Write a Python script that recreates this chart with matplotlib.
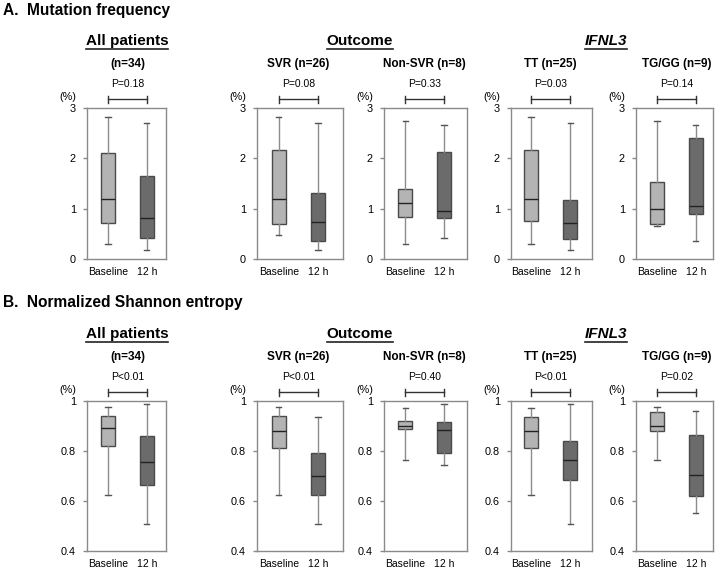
import matplotlib
matplotlib.use('Agg')
import matplotlib.pyplot as plt
import matplotlib.transforms as mtransforms
from matplotlib.lines import Line2D

plt.rcParams['font.family'] = ['Liberation Sans', 'DejaVu Sans']

# --- data ---
subtitles = ['(n=34)', 'SVR (n=26)', 'Non-SVR (n=8)', 'TT (n=25)', 'TG/GG (n=9)']
time_labels = ['Baseline', '12 h']

# whislo, q1, med, q3, whishi
mut_baseline = [
    [0.30, 0.72, 1.19, 2.11, 2.82],
    [0.47, 0.69, 1.19, 2.16, 2.82],
    [0.30, 0.83, 1.11, 1.40, 2.75],
    [0.30, 0.75, 1.20, 2.17, 2.82],
    [0.65, 0.70, 0.99, 1.52, 2.75],
]
mut_12h = [
    [0.17, 0.41, 0.81, 1.64, 2.70],
    [0.17, 0.36, 0.735, 1.32, 2.70],
    [0.41, 0.81, 0.95, 2.12, 2.66],
    [0.17, 0.40, 0.715, 1.17, 2.70],
    [0.36, 0.89, 1.05, 2.40, 2.66],
]
mut_p = ['P=0.18', 'P=0.08', 'P=0.33', 'P=0.03', 'P=0.14']
mut_ticks = [0, 1, 2, 3]
mut_ticklabels = ['0', '1', '2', '3']

ent_baseline = [
    [0.623, 0.820, 0.893, 0.939, 0.976],
    [0.623, 0.813, 0.879, 0.940, 0.976],
    [0.763, 0.887, 0.899, 0.921, 0.971],
    [0.623, 0.812, 0.881, 0.935, 0.971],
    [0.763, 0.879, 0.899, 0.955, 0.976],
]
ent_12h = [
    [0.508, 0.663, 0.757, 0.859, 0.990],
    [0.508, 0.625, 0.700, 0.793, 0.935],
    [0.743, 0.793, 0.883, 0.916, 0.990],
    [0.508, 0.683, 0.763, 0.840, 0.990],
    [0.551, 0.621, 0.705, 0.865, 0.960],
]
ent_p = ['P<0.01', 'P<0.01', 'P=0.40', 'P<0.01', 'P=0.02']
ent_ticks = [0.4, 0.6, 0.8, 1.0]
ent_ticklabels = ['0.4', '0.6', '0.8', '1']

# --- layout in pixels ---
W, H = 720, 570
panel_px = [(87, 166), (257, 343), (384, 467), (511, 592), (636, 713)]
panel_xlim = [(0.46, 2.49), (0.44, 2.64), (0.46, 2.59), (0.49, 2.56), (0.46, 2.44)]

light = '#b4b4b4'
dark = '#6b6b6b'
edge = '#4a4a4a'
spine = '#8a8a8a'

fig = plt.figure(figsize=(W / 100, H / 100), dpi=100)


def stats_of(vals):
    return dict(whislo=vals[0], q1=vals[1], med=vals[2], q3=vals[3], whishi=vals[4], fliers=[])


def draw_row(top, bottom, base, h12, pvals, ticks, ticklabels, title, row_off):
    fig.text(3 / W, 1 - (10 + row_off) / H, title, fontsize=11.2, fontweight='bold',
             va='center', ha='left')
    for i in range(5):
        l, r = panel_px[i]
        ax = fig.add_axes([l / W, 1 - bottom / H, (r - l) / W, (bottom - top) / H])
        hpx = bottom - top
        wpx = r - l
        ax.bxp([stats_of(base[i]), stats_of(h12[i])], positions=[1, 2], widths=0.36,
               capwidths=0.13, patch_artist=True, showfliers=False,
               boxprops=dict(edgecolor=edge, linewidth=1.0),
               whiskerprops=dict(color='#8c8c8c', linewidth=1.0),
               capprops=dict(color='#555555', linewidth=1.0),
               medianprops=dict(color='#222222', linewidth=1.0))
        for patch, c in zip(ax.patches, [light, dark]):
            patch.set_facecolor(c)
        ax.set_xlim(*panel_xlim[i])
        ax.set_ylim(ticks[0], ticks[-1])
        ax.set_yticks(ticks)
        ax.set_yticklabels(ticklabels)
        ax.set_xticks([1, 2])
        ax.set_xticklabels(time_labels)
        ax.tick_params(axis='x', length=0, pad=6, labelsize=7.5)
        ax.tick_params(axis='y', length=3, width=1, color=spine, pad=5, labelsize=7.8)
        for s in ax.spines.values():
            s.set_color(spine)
            s.set_linewidth(1.0)
        # bracket + p value
        tr = mtransforms.blended_transform_factory(ax.transData, ax.transAxes)
        yb = 1 + 9 / hpx
        d = 3.5 / hpx
        ax.plot([1, 2], [yb, yb], color='#333333', lw=1, transform=tr, clip_on=False)
        ax.plot([1, 1], [yb - d, yb + d], color='#333333', lw=1, transform=tr, clip_on=False)
        ax.plot([2, 2], [yb - d, yb + d], color='#333333', lw=1, transform=tr, clip_on=False)
        ax.text(1.5, 1 + 24 / hpx, pvals[i], transform=tr, ha='center', va='center', fontsize=7.5)
        ax.text(1.5, 1 + 44 / hpx, subtitles[i], transform=tr, ha='center', va='center',
                fontsize=8.5, fontweight='bold')
        ax.text(-19 / wpx, 1 + 11 / hpx, '(%)', transform=ax.transAxes, ha='center',
                va='center', fontsize=7.8)
    heads = []
    heads.append(fig.text(127 / W, 1 - (45 + row_off) / H, 'All patients', fontsize=11,
                          fontweight='bold', ha='center', va='baseline'))
    heads.append(fig.text(360 / W, 1 - (45 + row_off) / H, 'Outcome', fontsize=11,
                          fontweight='bold', ha='center', va='baseline'))
    heads.append(fig.text(606 / W, 1 - (45 + row_off) / H, 'IFNL3', fontsize=11,
                          fontweight='bold', style='italic', ha='center', va='baseline'))
    return heads, row_off


heads_a = draw_row(108, 259, mut_baseline, mut_12h, mut_p, mut_ticks, mut_ticklabels,
                   'A.  Mutation frequency', 0)
heads_b = draw_row(401, 551, ent_baseline, ent_12h, ent_p, ent_ticks, ent_ticklabels,
                   'B.  Normalized Shannon entropy', 293)

# underline the group headers
fig.canvas.draw()
renderer = fig.canvas.get_renderer()
for heads, off in [heads_a, heads_b]:
    for t in heads:
        bb = t.get_window_extent(renderer)
        y = H - (49 + off)
        fig.add_artist(Line2D([bb.x0, bb.x1], [y, y], color='#222222', lw=1.2,
                              transform=mtransforms.IdentityTransform()))

fig.savefig('out.png', dpi=100)
